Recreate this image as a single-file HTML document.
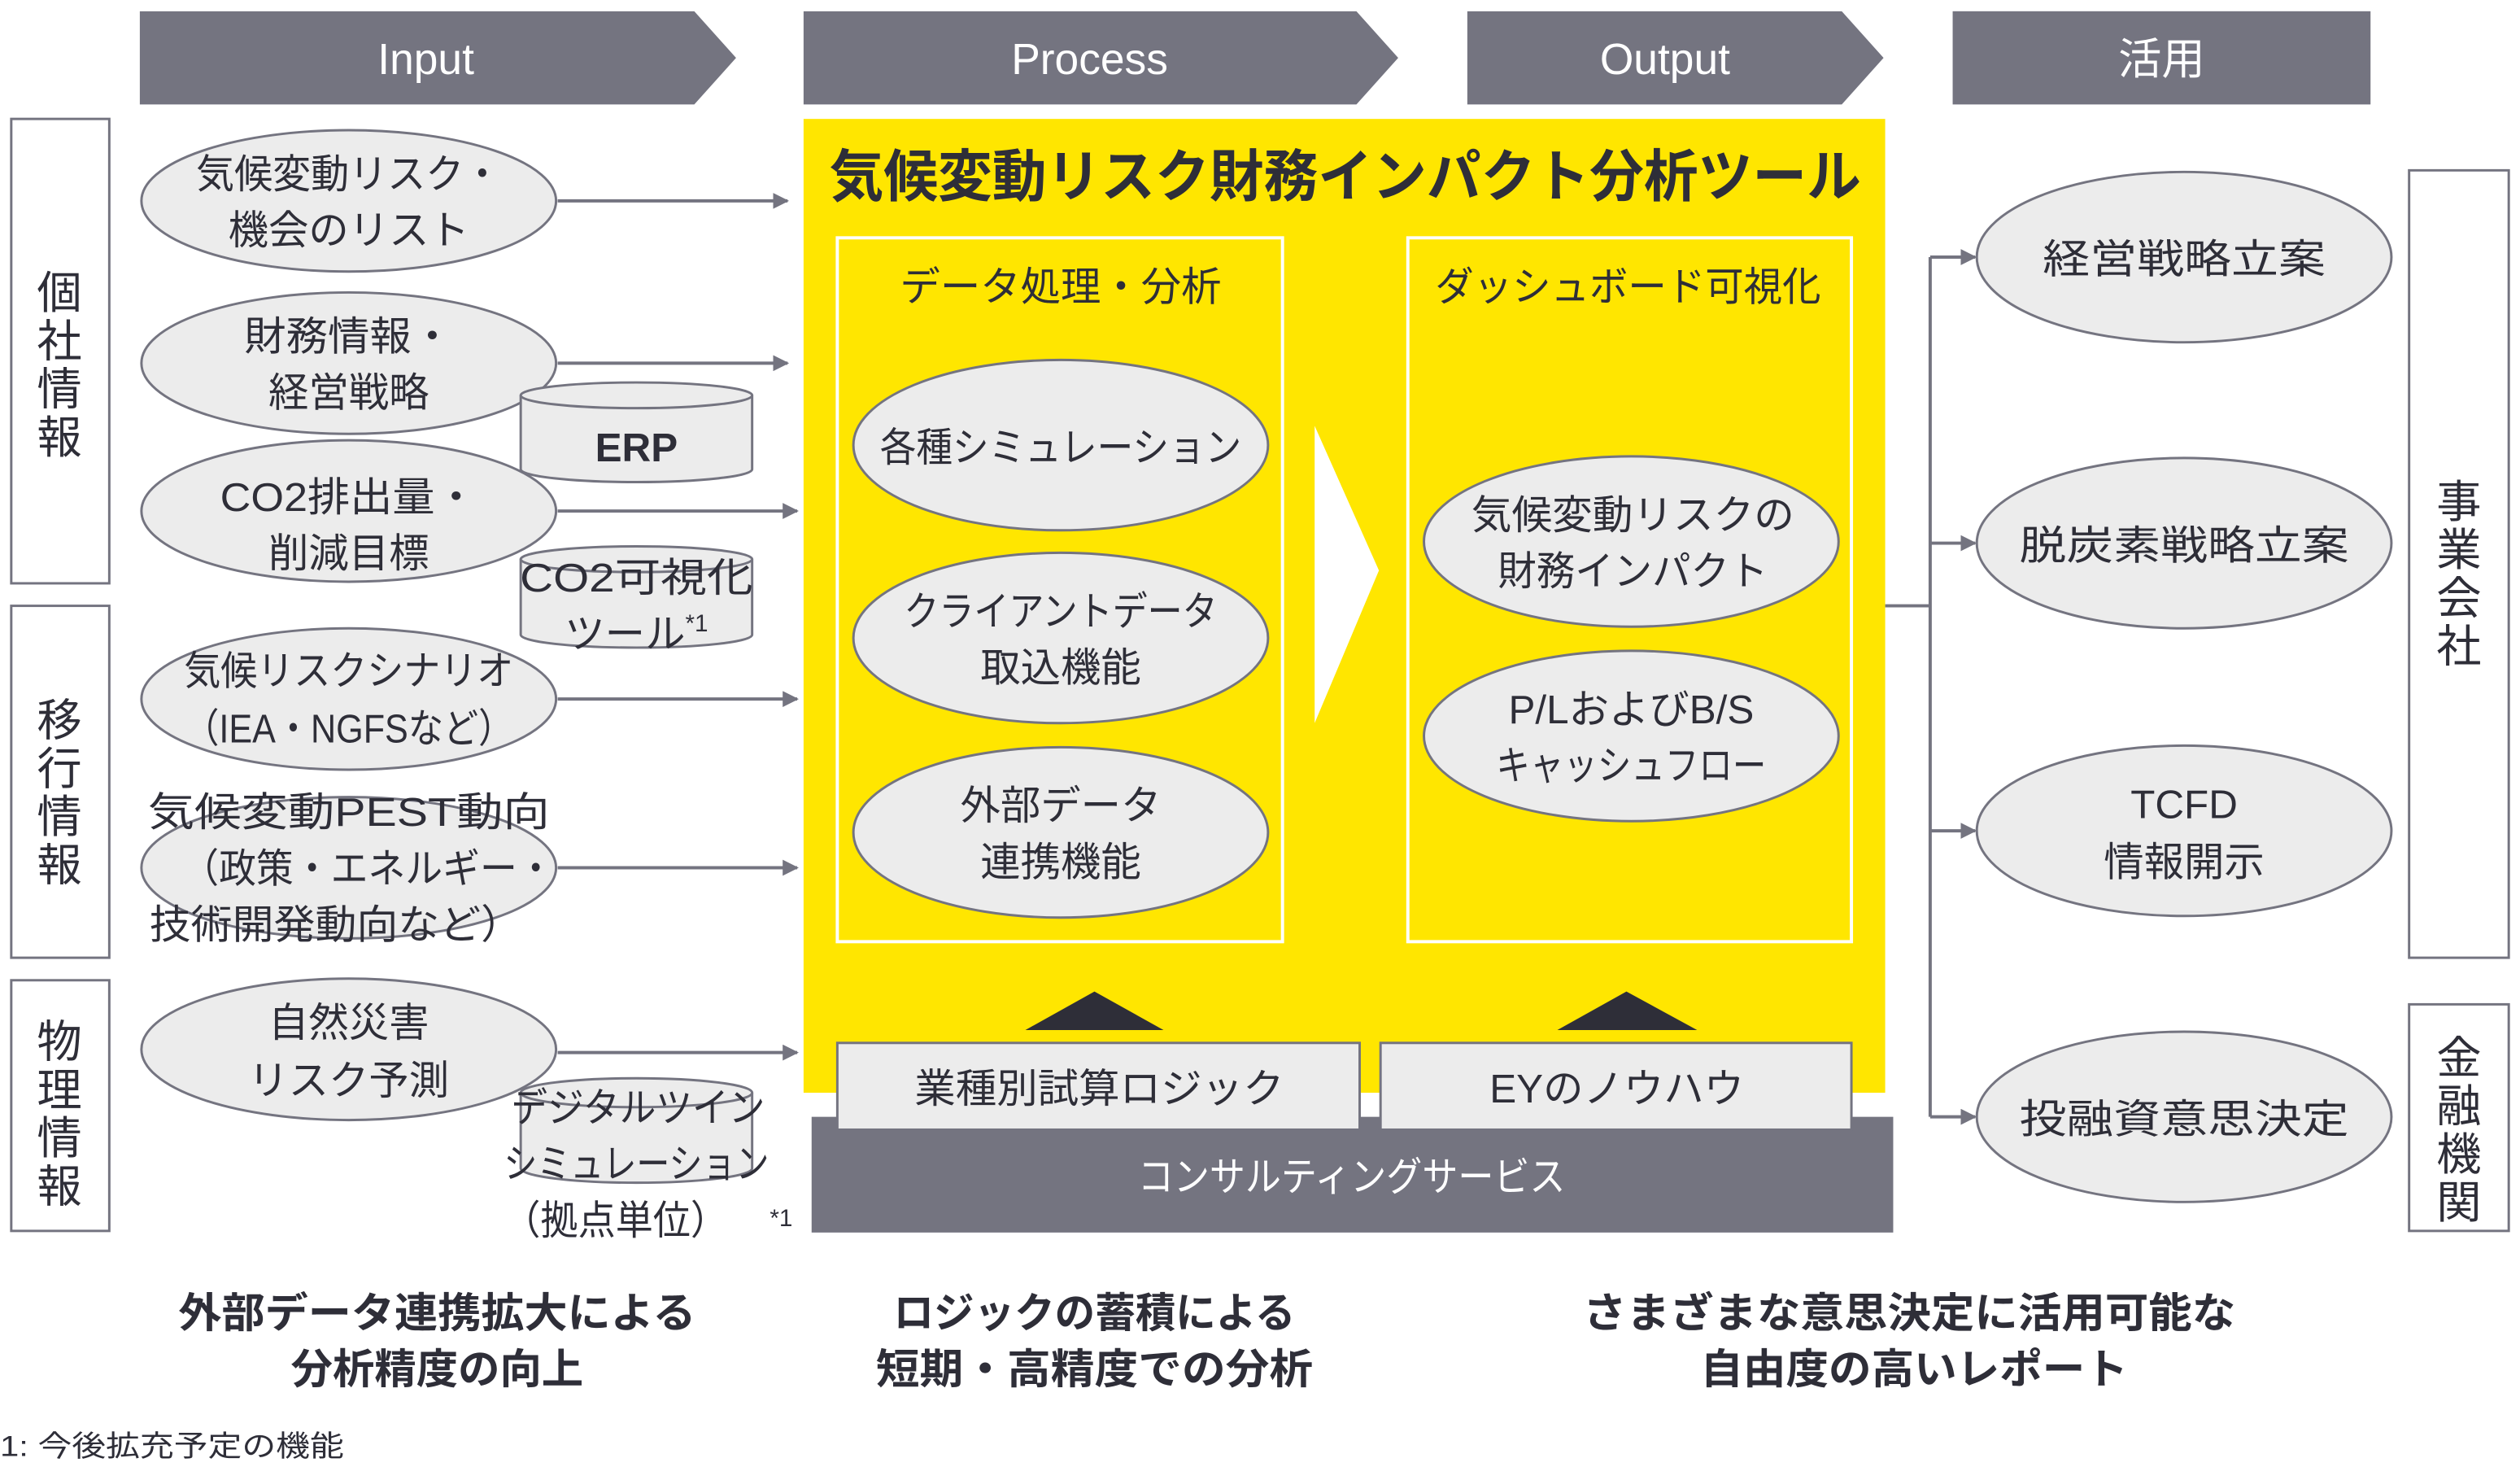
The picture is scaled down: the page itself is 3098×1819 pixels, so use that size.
<!DOCTYPE html>
<html><head><meta charset="utf-8">
<style>
html,body{margin:0;padding:0;background:#fff;}
svg{display:block;}
text{font-family:"Liberation Sans","Noto Sans CJK JP",sans-serif;fill:#2e2e38;}
</style></head>
<body>
<svg width="3098" height="1819" viewBox="0 0 1568 921" preserveAspectRatio="none" xmlns="http://www.w3.org/2000/svg">
<defs>
<marker id="ar" markerWidth="10" markerHeight="10" refX="9" refY="5" orient="auto" markerUnits="userSpaceOnUse">
<path d="M0,0 L10,5 L0,10 Z" fill="#747480"/></marker>
</defs>
<rect width="1568" height="921" fill="#fff"/>
<polygon points="87,7 432,7 458,36 432,65 87,65" fill="#747480"/>
<polygon points="500,7 844,7 870,36 844,65 500,65" fill="#747480"/>
<polygon points="913,7 1146,7 1172,36 1146,65 913,65" fill="#747480"/>
<rect x="1215" y="7" width="260" height="58" fill="#747480"/>
<g font-size="27" text-anchor="middle">
<text x="265" y="46" style="fill:#fff">Input</text>
<text x="678" y="46" style="fill:#fff">Process</text>
<text x="1036" y="46" style="fill:#fff">Output</text>
<text x="1345" y="46" style="fill:#fff">活用</text>
</g>
<g fill="#fff" stroke="#747480" stroke-width="1.5">
<rect x="7" y="74" width="61" height="289"/>
<rect x="7" y="377" width="61" height="219"/>
<rect x="7" y="610" width="61" height="156"/>
<rect x="1499" y="106" width="62" height="490"/>
<rect x="1499" y="625" width="62" height="141"/>
</g>
<g font-size="28" text-anchor="middle">
<text x="37" y="192">個</text><text x="37" y="222">社</text><text x="37" y="252">情</text><text x="37" y="282">報</text>
<text x="37" y="458">移</text><text x="37" y="488">行</text><text x="37" y="518">情</text><text x="37" y="548">報</text>
<text x="37" y="658">物</text><text x="37" y="688">理</text><text x="37" y="718">情</text><text x="37" y="748">報</text>
<text x="1530" y="322">事</text><text x="1530" y="352">業</text><text x="1530" y="382">会</text><text x="1530" y="412">社</text>
<text x="1530" y="668">金</text><text x="1530" y="698">融</text><text x="1530" y="728">機</text><text x="1530" y="758">関</text>
</g>
<rect x="500" y="74" width="673" height="606" fill="#ffe600"/>
<text x="516" y="122" font-size="35" font-weight="bold" textLength="642" lengthAdjust="spacingAndGlyphs">気候変動リスク財務インパクト分析ツール</text>
<rect x="521" y="148" width="277" height="438" fill="none" stroke="#fff" stroke-width="2"/>
<rect x="876" y="148" width="276" height="438" fill="none" stroke="#fff" stroke-width="2"/>
<text x="660" y="187" font-size="25" text-anchor="middle" textLength="200" lengthAdjust="spacingAndGlyphs">データ処理・分析</text>
<text x="1013" y="187" font-size="25" text-anchor="middle" textLength="240" lengthAdjust="spacingAndGlyphs">ダッシュボード可視化</text>
<polygon points="818,265 858,355 818,450" fill="#fff"/>
<g stroke="#747480" stroke-width="2" marker-end="url(#ar)">
<line x1="347" y1="125" x2="490" y2="125"/>
<line x1="347" y1="226" x2="490" y2="226"/>
<line x1="347" y1="318" x2="496" y2="318"/>
<line x1="347" y1="435" x2="496" y2="435"/>
<line x1="347" y1="540" x2="496" y2="540"/>
<line x1="347" y1="655" x2="496" y2="655"/>
</g>
<g fill="#ececec" stroke="#747480" stroke-width="1.5">
<ellipse cx="217" cy="125" rx="129" ry="44"/>
<ellipse cx="217" cy="226" rx="129" ry="44"/>
<ellipse cx="217" cy="318" rx="129" ry="44"/>
<ellipse cx="217" cy="435" rx="129" ry="44"/>
<ellipse cx="217" cy="540" rx="129" ry="44"/>
<ellipse cx="217" cy="653" rx="129" ry="44"/>
<ellipse cx="660" cy="277" rx="129" ry="53"/>
<ellipse cx="660" cy="397" rx="129" ry="53"/>
<ellipse cx="660" cy="518" rx="129" ry="53"/>
<ellipse cx="1015" cy="337" rx="129" ry="53"/>
<ellipse cx="1015" cy="458" rx="129" ry="53"/>
<ellipse cx="1359" cy="160" rx="129" ry="53"/>
<ellipse cx="1359" cy="338" rx="129" ry="53"/>
<ellipse cx="1359" cy="517" rx="129" ry="53"/>
<ellipse cx="1359" cy="695" rx="129" ry="53"/>
</g>
<g fill="#ececec" stroke="#747480" stroke-width="1.5">
<path d="M324,246 L324,292 A72,8 0 0 0 468,292 L468,246"/>
<ellipse cx="396" cy="246" rx="72" ry="8"/>
<path d="M324,348 L324,395 A72,8 0 0 0 468,395 L468,348"/>
<ellipse cx="396" cy="348" rx="72" ry="8"/>
<path d="M324,680 L324,727 A72,9 0 0 0 468,727 L468,680"/>
<ellipse cx="396" cy="680" rx="72" ry="9"/>
</g>
<g font-size="25" text-anchor="middle" lengthAdjust="spacingAndGlyphs">
<text x="217" y="117" textLength="190" lengthAdjust="spacingAndGlyphs">気候変動リスク・</text><text x="217" y="152">機会のリスト</text>
<text x="217" y="218" textLength="130" lengthAdjust="spacingAndGlyphs">財務情報・</text><text x="217" y="253">経営戦略</text>
<text x="217" y="318" textLength="160" lengthAdjust="spacingAndGlyphs">CO2排出量・</text><text x="217" y="353">削減目標</text>
<text x="217" y="426" textLength="205" lengthAdjust="spacingAndGlyphs">気候リスクシナリオ</text><text x="217" y="462" textLength="205" lengthAdjust="spacingAndGlyphs">（IEA・NGFSなど）</text>
<text x="217" y="514" textLength="250" lengthAdjust="spacingAndGlyphs">気候変動PEST動向</text><text x="229" y="549" textLength="232" lengthAdjust="spacingAndGlyphs">（政策・エネルギー・</text><text x="209" y="584" textLength="232" lengthAdjust="spacingAndGlyphs">技術開発動向など）</text>
<text x="217" y="645">自然災害</text><text x="217" y="681">リスク予測</text>
<text x="396" y="287" font-weight="bold">ERP</text>
<text x="396" y="368" textLength="145" lengthAdjust="spacingAndGlyphs">CO2可視化</text><text x="396" y="403">ツール<tspan font-size="15" dy="-10">*1</tspan></text>
<text x="397" y="698" textLength="158" lengthAdjust="spacingAndGlyphs">デジタルツイン</text><text x="396" y="733" textLength="165" lengthAdjust="spacingAndGlyphs">シミュレーション</text><text x="383" y="768" textLength="140" lengthAdjust="spacingAndGlyphs">（拠点単位）</text>
<text x="660" y="287" textLength="225" lengthAdjust="spacingAndGlyphs">各種シミュレーション</text>
<text x="660" y="389" textLength="195" lengthAdjust="spacingAndGlyphs">クライアントデータ</text><text x="660" y="424">取込機能</text>
<text x="660" y="510">外部データ</text><text x="660" y="545">連携機能</text>
<text x="1016" y="329" textLength="201" lengthAdjust="spacingAndGlyphs">気候変動リスクの</text><text x="1016" y="364" textLength="168" lengthAdjust="spacingAndGlyphs">財務インパクト</text>
<text x="1015" y="450">P/LおよびB/S</text><text x="1015" y="485" textLength="168" lengthAdjust="spacingAndGlyphs">キャッシュフロー</text>
<text x="1359" y="170" textLength="176" lengthAdjust="spacingAndGlyphs">経営戦略立案</text>
<text x="1359" y="348" textLength="205" lengthAdjust="spacingAndGlyphs">脱炭素戦略立案</text>
<text x="1359" y="509">TCFD</text><text x="1359" y="545">情報開示</text>
<text x="1359" y="705" textLength="205" lengthAdjust="spacingAndGlyphs">投融資意思決定</text>
</g>
<text x="479" y="763" font-size="15">*1</text>
<polygon points="638,641 681,617 724,641" fill="#2e2e38"/>
<polygon points="969,641 1012,617 1056,641" fill="#2e2e38"/>
<rect x="505" y="695" width="673" height="72" fill="#747480"/>
<rect x="521" y="649" width="325" height="54" fill="#ececec" stroke="#747480" stroke-width="1.5"/>
<rect x="859" y="649" width="293" height="54" fill="#ececec" stroke="#747480" stroke-width="1.5"/>
<text x="684" y="686" font-size="25" text-anchor="middle" textLength="230" lengthAdjust="spacingAndGlyphs">業種別試算ロジック</text>
<text x="1006" y="686" font-size="25" text-anchor="middle">EYのノウハウ</text>
<text x="841" y="741" font-size="25" text-anchor="middle" style="fill:#fff" textLength="266" lengthAdjust="spacingAndGlyphs">コンサルティングサービス</text>
<g stroke="#747480" stroke-width="2" fill="none">
<line x1="1173" y1="377" x2="1201" y2="377"/>
<line x1="1201" y1="160" x2="1201" y2="695"/>
</g>
<g stroke="#747480" stroke-width="2" marker-end="url(#ar)">
<line x1="1201" y1="160" x2="1229" y2="160"/>
<line x1="1201" y1="338" x2="1229" y2="338"/>
<line x1="1201" y1="517" x2="1229" y2="517"/>
<line x1="1201" y1="695" x2="1229" y2="695"/>
</g>
<g font-size="26" font-weight="bold" text-anchor="middle">
<text x="272" y="826" textLength="322" lengthAdjust="spacingAndGlyphs">外部データ連携拡大による</text><text x="272" y="861">分析精度の向上</text>
<text x="681" y="826" textLength="250" lengthAdjust="spacingAndGlyphs">ロジックの蓄積による</text><text x="681" y="861" textLength="272" lengthAdjust="spacingAndGlyphs">短期・高精度での分析</text>
<text x="1188" y="826" textLength="406" lengthAdjust="spacingAndGlyphs">さまざまな意思決定に活用可能な</text><text x="1191" y="861" textLength="266" lengthAdjust="spacingAndGlyphs">自由度の高いレポート</text>
</g>
<text x="0" y="906" font-size="18" textLength="214" lengthAdjust="spacingAndGlyphs">1: 今後拡充予定の機能</text>
</svg>
</body></html>
